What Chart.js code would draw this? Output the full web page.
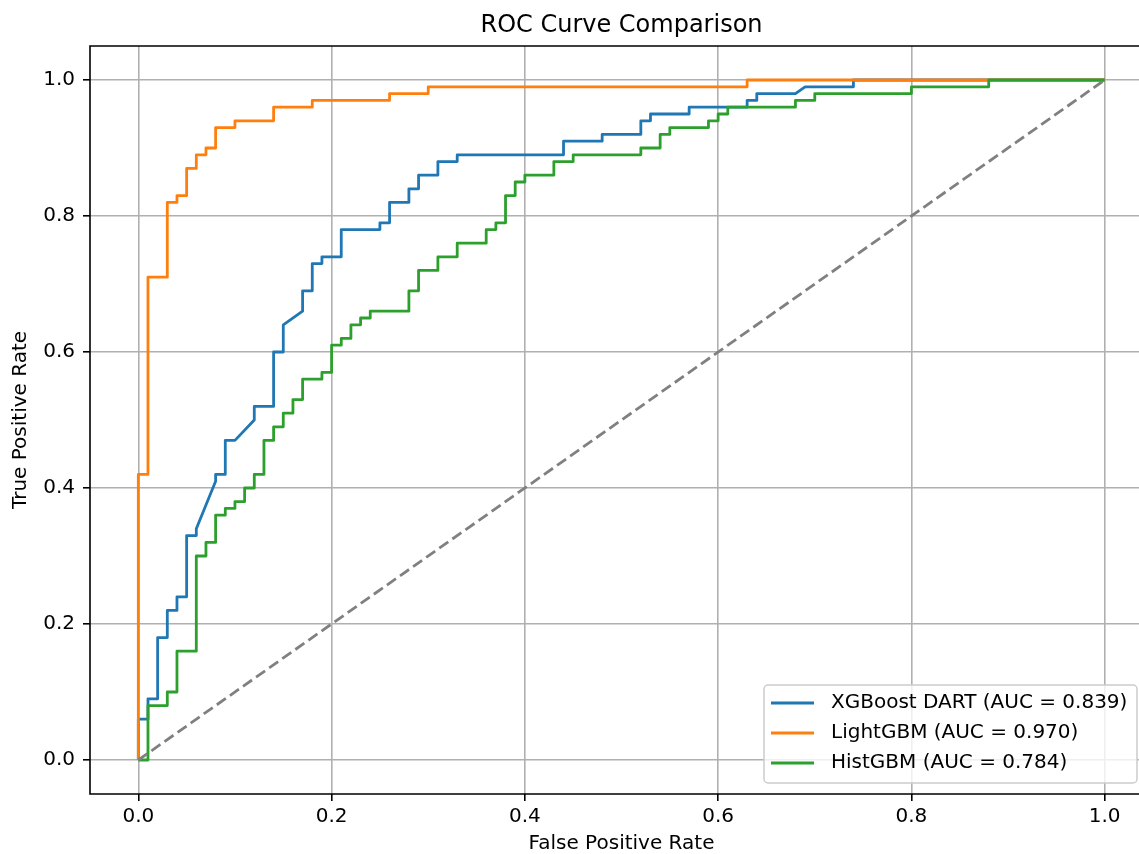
<!DOCTYPE html>
<html lang="en">
<head>
<meta charset="UTF-8">
<title>ROC Curve Comparison</title>
<script src="https://cdn.jsdelivr.net/npm/chart.js"></script>
<style>
  html, body { margin: 0; padding: 0; background: #fff; overflow: hidden; }
  #wrap { width: 1139px; height: 854px; overflow: hidden; }
</style>
</head>
<body>
<div id="wrap"><canvas id="roc" width="1160" height="854"></canvas></div>
<script>
// ROC points (fpr / tpr)
const xgbFpr = [0, 0, 0.01, 0.01, 0.02, 0.02, 0.03, 0.03, 0.04, 0.04, 0.05, 0.05, 0.06, 0.06, 0.08, 0.08, 0.09, 0.09, 0.10, 0.12, 0.12, 0.14, 0.14, 0.15, 0.15, 0.17, 0.17, 0.18, 0.18, 0.19, 0.19, 0.21, 0.21, 0.25, 0.25, 0.26, 0.26, 0.28, 0.28, 0.29, 0.29, 0.31, 0.31, 0.33, 0.33, 0.44, 0.44, 0.48, 0.48, 0.52, 0.52, 0.53, 0.53, 0.57, 0.57, 0.63, 0.63, 0.64, 0.64, 0.68, 0.69, 0.74, 0.74, 1];
const xgbTpr = [0, 0.06, 0.06, 0.09, 0.09, 0.18, 0.18, 0.22, 0.22, 0.24, 0.24, 0.33, 0.33, 0.34, 0.41, 0.42, 0.42, 0.47, 0.47, 0.50, 0.52, 0.52, 0.60, 0.60, 0.64, 0.66, 0.69, 0.69, 0.73, 0.73, 0.74, 0.74, 0.78, 0.78, 0.79, 0.79, 0.82, 0.82, 0.84, 0.84, 0.86, 0.86, 0.88, 0.88, 0.89, 0.89, 0.91, 0.91, 0.92, 0.92, 0.94, 0.94, 0.95, 0.95, 0.96, 0.96, 0.97, 0.97, 0.98, 0.98, 0.99, 0.99, 1.0, 1.0];

const lgbFpr = [0, 0, 0.01, 0.01, 0.03, 0.03, 0.04, 0.04, 0.05, 0.05, 0.06, 0.06, 0.07, 0.07, 0.08, 0.08, 0.10, 0.10, 0.14, 0.14, 0.18, 0.18, 0.26, 0.26, 0.30, 0.30, 0.63, 0.63, 1];
const lgbTpr = [0, 0.42, 0.42, 0.71, 0.71, 0.82, 0.82, 0.83, 0.83, 0.87, 0.87, 0.89, 0.89, 0.90, 0.90, 0.93, 0.93, 0.94, 0.94, 0.96, 0.96, 0.97, 0.97, 0.98, 0.98, 0.99, 0.99, 1.0, 1.0];

const histFpr = [0, 0.01, 0.01, 0.03, 0.03, 0.04, 0.04, 0.06, 0.06, 0.07, 0.07, 0.08, 0.08, 0.09, 0.09, 0.10, 0.10, 0.11, 0.11, 0.12, 0.12, 0.13, 0.13, 0.14, 0.14, 0.15, 0.15, 0.16, 0.16, 0.17, 0.17, 0.19, 0.19, 0.20, 0.20, 0.21, 0.21, 0.22, 0.22, 0.23, 0.23, 0.24, 0.24, 0.28, 0.28, 0.29, 0.29, 0.31, 0.31, 0.33, 0.33, 0.36, 0.36, 0.37, 0.37, 0.38, 0.38, 0.39, 0.39, 0.40, 0.40, 0.43, 0.43, 0.45, 0.45, 0.52, 0.52, 0.54, 0.54, 0.55, 0.55, 0.59, 0.59, 0.60, 0.60, 0.61, 0.61, 0.68, 0.68, 0.70, 0.70, 0.80, 0.80, 0.88, 0.88, 1];
const histTpr = [0, 0, 0.08, 0.08, 0.10, 0.10, 0.16, 0.16, 0.30, 0.30, 0.32, 0.32, 0.36, 0.36, 0.37, 0.37, 0.38, 0.38, 0.40, 0.40, 0.42, 0.42, 0.47, 0.47, 0.49, 0.49, 0.51, 0.51, 0.53, 0.53, 0.56, 0.56, 0.57, 0.57, 0.61, 0.61, 0.62, 0.62, 0.64, 0.64, 0.65, 0.65, 0.66, 0.66, 0.69, 0.69, 0.72, 0.72, 0.74, 0.74, 0.76, 0.76, 0.78, 0.78, 0.79, 0.79, 0.83, 0.83, 0.85, 0.85, 0.86, 0.86, 0.88, 0.88, 0.89, 0.89, 0.90, 0.90, 0.92, 0.92, 0.93, 0.93, 0.94, 0.94, 0.95, 0.95, 0.96, 0.96, 0.97, 0.97, 0.98, 0.98, 0.99, 0.99, 1.0, 1.0];

const chanceFpr = [0, 1];
const chanceTpr = [0, 1];

const modelNames = ['XGBoost DART', 'LightGBM', 'HistGBM'];
const aucValues = ['0.839', '0.970', '0.784'];
const modelColors = ['#1f77b4', '#ff7f0e', '#2ca02c'];
const tickValues = [0, 0.2, 0.4, 0.6, 0.8, 1.0];

const FONT = 'DejaVu Sans';

function toPoints(xs, ys) {
    return xs.map((x, i) => ({ x: x, y: ys[i] }));
}

function curve(i, xs, ys) {
    return {
        label: modelNames[i] + ' (AUC = ' + aucValues[i] + ')',
        data: toPoints(xs, ys),
        borderColor: modelColors[i],
        backgroundColor: modelColors[i],
        borderWidth: 2.8,
        showLine: true,
        pointRadius: 0,
        fill: false,
        tension: 0,
        borderJoinStyle: 'round',
        order: 3 - i
    };
}

// axes frame: left, top and bottom spines (the right one is off the page)
const frame = {
    id: 'frame',
    afterDatasetsDraw(chart) {
        const a = chart.chartArea;
        const ctx = chart.ctx;
        ctx.save();
        ctx.strokeStyle = '#000';
        ctx.lineWidth = 1.6;
        ctx.beginPath();
        ctx.moveTo(a.right, a.top);
        ctx.lineTo(a.left, a.top);
        ctx.lineTo(a.left, a.bottom);
        ctx.lineTo(a.right, a.bottom);
        ctx.stroke();
        ctx.restore();
    }
};

// matplotlib style legend in the lower right corner
const cornerLegend = {
    id: 'cornerLegend',
    afterDraw(chart) {
        const a = chart.chartArea;
        const ctx = chart.ctx;
        const items = chart.data.datasets.filter(d => !d.hideLegend);
        const right = a.right - 16, bottom = a.bottom - 11;
        const w = 373, h = 98;
        const left = right - w, top = bottom - h;
        ctx.save();
        ctx.beginPath();
        ctx.roundRect(left, top, w, h, 4);
        ctx.fillStyle = 'rgba(255,255,255,0.8)';
        ctx.fill();
        ctx.strokeStyle = '#cccccc';
        ctx.lineWidth = 1.5;
        ctx.stroke();
        ctx.font = '20px "' + FONT + '"';
        ctx.textBaseline = 'middle';
        ctx.textAlign = 'left';
        items.forEach((d, i) => {
            const y = top + 18 + i * 30;
            ctx.strokeStyle = d.borderColor;
            ctx.lineWidth = 2.8;
            ctx.beginPath();
            ctx.moveTo(left + 7, y);
            ctx.lineTo(left + 50, y);
            ctx.stroke();
            ctx.fillStyle = '#000';
            ctx.fillText(d.label, left + 67, y);
        });
        ctx.restore();
    }
};

const axisFont = { family: FONT, size: 20 };

new Chart(document.getElementById('roc').getContext('2d'), {
    type: 'scatter',
    data: {
        datasets: [
            curve(0, xgbFpr, xgbTpr),
            curve(1, lgbFpr, lgbTpr),
            curve(2, histFpr, histTpr),
            {
                label: 'chance',
                hideLegend: true,
                data: toPoints(chanceFpr, chanceTpr),
                borderColor: '#808080',
                borderWidth: 2.8,
                borderDash: [11, 5],
                showLine: true,
                pointRadius: 0,
                fill: false,
                order: 0
            }
        ]
    },
    options: {
        responsive: false,
        animation: false,
        layout: { padding: { left: 0, top: 0, right: 7, bottom: 0 } },
        plugins: {
            legend: { display: false },
            tooltip: { enabled: false },
            title: {
                display: true,
                text: 'ROC Curve Comparison',
                fullSize: false,
                color: '#000',
                font: { family: FONT, size: 24, weight: 'normal', lineHeight: 1 },
                padding: { top: 14, bottom: 8 }
            }
        },
        scales: {
            x: {
                type: 'linear',
                min: -0.05,
                max: 1.05,
                afterBuildTicks: s => { s.ticks = tickValues.map(v => ({ value: v })); },
                afterFit: s => { s.height = 60; },
                border: { display: false },
                grid: { color: '#b0b0b0', lineWidth: 1.6, tickColor: '#000', tickWidth: 1.6, tickLength: 7 },
                ticks: {
                    color: '#000', font: axisFont, padding: 4, maxRotation: 0, autoSkip: false,
                    callback: v => Number(v).toFixed(1)
                },
                title: {
                    display: true, text: 'False Positive Rate', color: '#000',
                    font: { family: FONT, size: 20, lineHeight: 1 },
                    padding: { top: 3, bottom: 0 }
                }
            },
            y: {
                type: 'linear',
                min: -0.05,
                max: 1.05,
                afterBuildTicks: s => { s.ticks = tickValues.map(v => ({ value: v })); },
                afterFit: s => { s.width = 90; },
                border: { display: false },
                grid: { color: '#b0b0b0', lineWidth: 1.6, tickColor: '#000', tickWidth: 1.6, tickLength: 7 },
                ticks: {
                    color: '#000', font: axisFont, padding: 8, autoSkip: false,
                    callback: v => Number(v).toFixed(1)
                },
                title: {
                    display: true, text: 'True Positive Rate', color: '#000',
                    font: { family: FONT, size: 20, lineHeight: 1 },
                    padding: { top: 11, bottom: 0 }
                }
            }
        }
    },
    plugins: [frame, cornerLegend]
});
</script>
</body>
</html>
